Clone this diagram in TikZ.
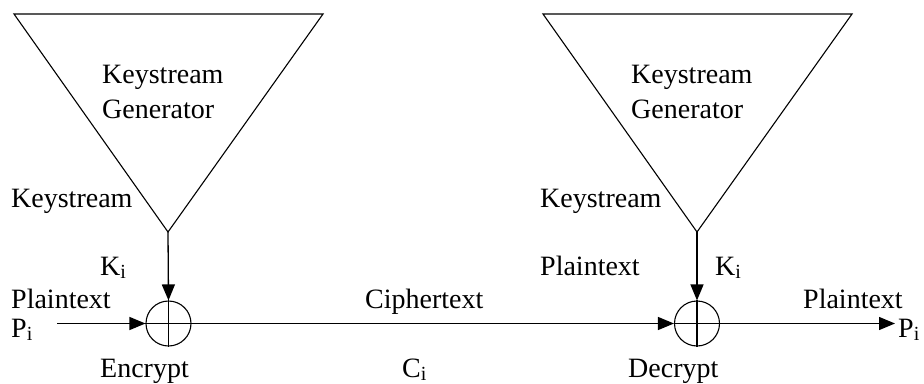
\documentclass[tikz,border=0pt]{standalone}
\usepackage{fontspec}
\setmainfont{Liberation Serif}
\usetikzlibrary{arrows.meta}
\newcommand{\mysub}[1]{\raisebox{-3pt}{\fontsize{20}{20}\selectfont #1}}
\begin{document}
\begin{tikzpicture}[x=1pt,y=-1pt,
  lbl/.style={anchor=base west,inner sep=0pt,font=\fontsize{28}{30}\selectfont},
  xorbox/.style={circle,draw,line width=1.1pt,minimum size=45pt,inner sep=0pt},
  gen/.style={line width=1.1pt,line join=miter},
  arr/.style={line width=1.3pt,-{Triangle[length=16pt,width=13pt]}},
  ln/.style={line width=1.3pt}]
\useasboundingbox (0,0) rectangle (924,383);
% generators
\coordinate (g1l) at (14,14);
\coordinate (g1r) at (323,14);
\coordinate (g1a) at (168,232);
\coordinate (g2l) at (543,14);
\coordinate (g2r) at (852,14);
\coordinate (g2a) at (697,232);
\draw[gen] (g1l) -- (g1r) -- (g1a) -- cycle;
\draw[gen] (g2l) -- (g2r) -- (g2a) -- cycle;
% xor nodes
\node[xorbox] (x1) at (168.5,323.5) {};
\node[xorbox] (x2) at (697,323.5) {};
\draw[ln] (x1.north) -- (x1.south);
\draw[ln] (x2.north) -- (x2.south);
\draw[ln] (x1.west) -- (x1.east);
\draw[ln] (x2.west) -- (x2.east);
% connectors
\coordinate (pin) at (57,323.5);
\coordinate (pout) at (895,323.5);
\draw[arr] (g1a) -- (x1.north);
\draw[arr] (g2a) -- (x2.north);
\draw[arr] (pin) -- (x1.west);
\draw[arr] (x1.east) -- (x2.west);
\draw[arr] (x2.east) -- (pout);
% labels
\node[lbl] (t1a) at (102,83) {Keystream};
\node[lbl] (t1b) at (102,118) {Generator};
\node[lbl] (t2a) at (631,83) {Keystream};
\node[lbl] (t2b) at (631,118) {Generator};
\node[lbl] (ks1) at (11,207) {Keystream};
\node[lbl] (ks2) at (540,207) {Keystream};
\node[lbl] (k1) at (100,275) {K\mysub{i}};
\node[lbl] (k2) at (715,275) {K\mysub{i}};
\node[lbl] (pl1) at (11,308) {Plaintext};
\node[lbl] (p1) at (11,337) {P\mysub{i}};
\node[lbl] (enc) at (100,377) {Encrypt};
\node[lbl] (ct) at (365,308) {Ciphertext};
\node[lbl] (ci) at (402,377) {C\mysub{i}};
\node[lbl] (pl2) at (540,275) {Plaintext};
\node[lbl] (dec) at (628,377) {Decrypt};
\node[lbl] (pl3) at (803,308) {Plaintext};
\node[lbl] (p2) at (898,337) {P\mysub{i}};
\end{tikzpicture}
\end{document}
